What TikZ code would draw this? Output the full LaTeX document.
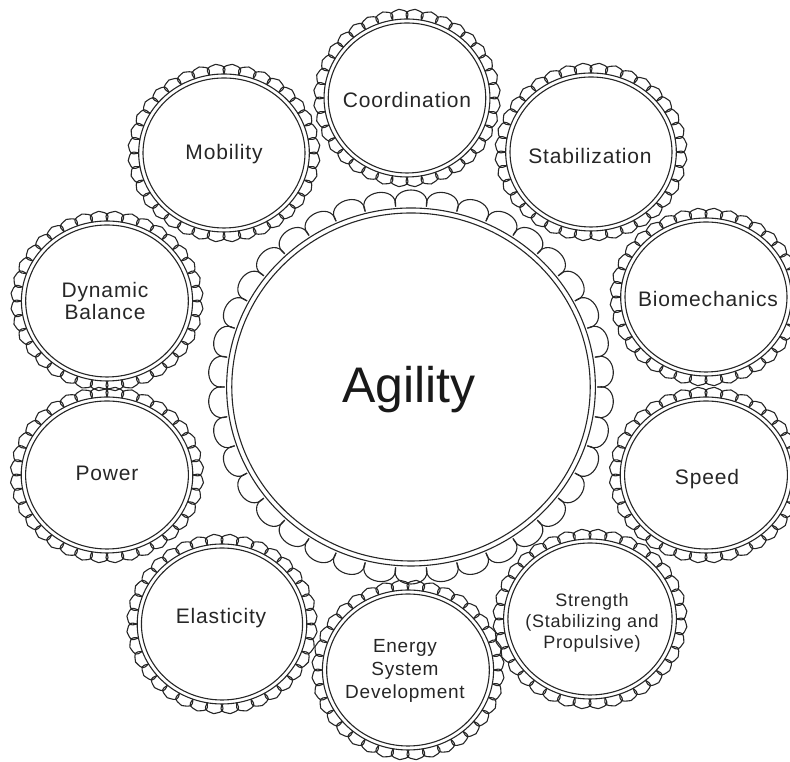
\documentclass[tikz,border=0pt]{standalone}
\usepackage{fontspec}
\setmainfont{Liberation Sans}
\newfontfamily\labfont[LetterSpace=4]{Liberation Sans}

% #1 cx, #2 cy (measured downward), #3 horizontal stretch, #4 inner ring,
% #5 outer ring, #6 radius where the scallops start, #7 scallop count,
% #8 scallop height, #9 = 1 for pointed scallops, 0 for round lobes
\newcommand\drawgear[9]{%
  \begin{scope}[shift={(#1,762-#2)}, xscale=#3]
    \draw[gearline] (0,0) circle (#4);
    \draw[gearline] (0,0) circle (#5);
    \pgfmathsetmacro\stepang{360/#7}
    \foreach \k in {1,...,#7} {
      \pgfmathsetmacro\aa{\k*\stepang}
      \pgfmathsetmacro\bb{\aa+\stepang}
      \pgfmathsetmacro\mm{\aa+0.5*\stepang}
      \ifnum#9=1
        \draw[gearline] (\aa:#6)
          .. controls ({\aa-0.12*\stepang}:{#6+0.75*#8}) .. (\mm:{#6+#8})
          .. controls ({\bb+0.12*\stepang}:{#6+0.75*#8}) .. (\bb:#6);
      \else
        \draw[gearline] (\aa:#6)
          .. controls ({\aa-0.12*\stepang}:{#6+1.33*#8}) and ({\bb+0.12*\stepang}:{#6+1.33*#8})
          .. (\bb:#6);
      \fi
    }
  \end{scope}}

\begin{document}
\begin{tikzpicture}[x=1pt,y=1pt,
  gearline/.style={draw=black!85, line width=1.1pt},
  lab/.style={font=\labfont\fontsize{21}{22}\selectfont, align=center,
              inner sep=0pt, text=black!85}]
\useasboundingbox (0,0) rectangle (790,762);

% central gear
\drawgear{411}{387}{1.03}{174}{179}{181}{38}{17}{0}

% surrounding gears
\drawgear{407}{98}{1.05}{75}{79}{79}{36}{10}{1}
\drawgear{224}{153}{1.08}{75}{79}{79}{36}{10}{1}
\drawgear{591}{152}{1.08}{75}{79}{79}{36}{10}{1}
\drawgear{107}{301}{1.07}{76}{80}{80}{36}{10}{1}
\drawgear{706}{297}{1.08}{75}{79}{79}{36}{10}{1}
\drawgear{107}{475}{1.10}{74}{78}{78}{36}{10}{1}
\drawgear{706}{475}{1.10}{74}{78}{78}{36}{10}{1}
\drawgear{222}{624}{1.06}{76}{80}{80}{36}{10}{1}
\drawgear{590}{619}{1.08}{76}{80}{80}{36}{10}{1}
\drawgear{408}{670}{1.07}{76}{80}{80}{36}{10}{1}

% labels
\node[font=\fontsize{50}{60}\selectfont, anchor=base, text=black!90] (agility) at (409,762-403) {Agility};
\node[lab] (coord) at (407,762-100) {Coordination};
\node[lab] (mob) at (224,762-154) {Mobility};
\node[lab] (stab) at (590,762-156) {Stabilization};
\node[lab] (dyn) at (105,762-301) {Dynamic\\Balance};
\node[lab] (bio) at (708,762-299) {Biomechanics};
\node[lab] (pow) at (107,762-473) {Power};
\node[lab] (spd) at (707,762-479) {Speed};
\node[lab] (ela) at (221,762-618) {Elasticity};
\node[lab, font=\labfont\fontsize{18}{21}\selectfont] (str) at (592,762-623) {Strength\\(Stabilizing and\\Propulsive)};
\node[lab, font=\labfont\fontsize{19}{23}\selectfont] (ene) at (405,762-671) {Energy\\System\\Development};
\end{tikzpicture}
\end{document}
